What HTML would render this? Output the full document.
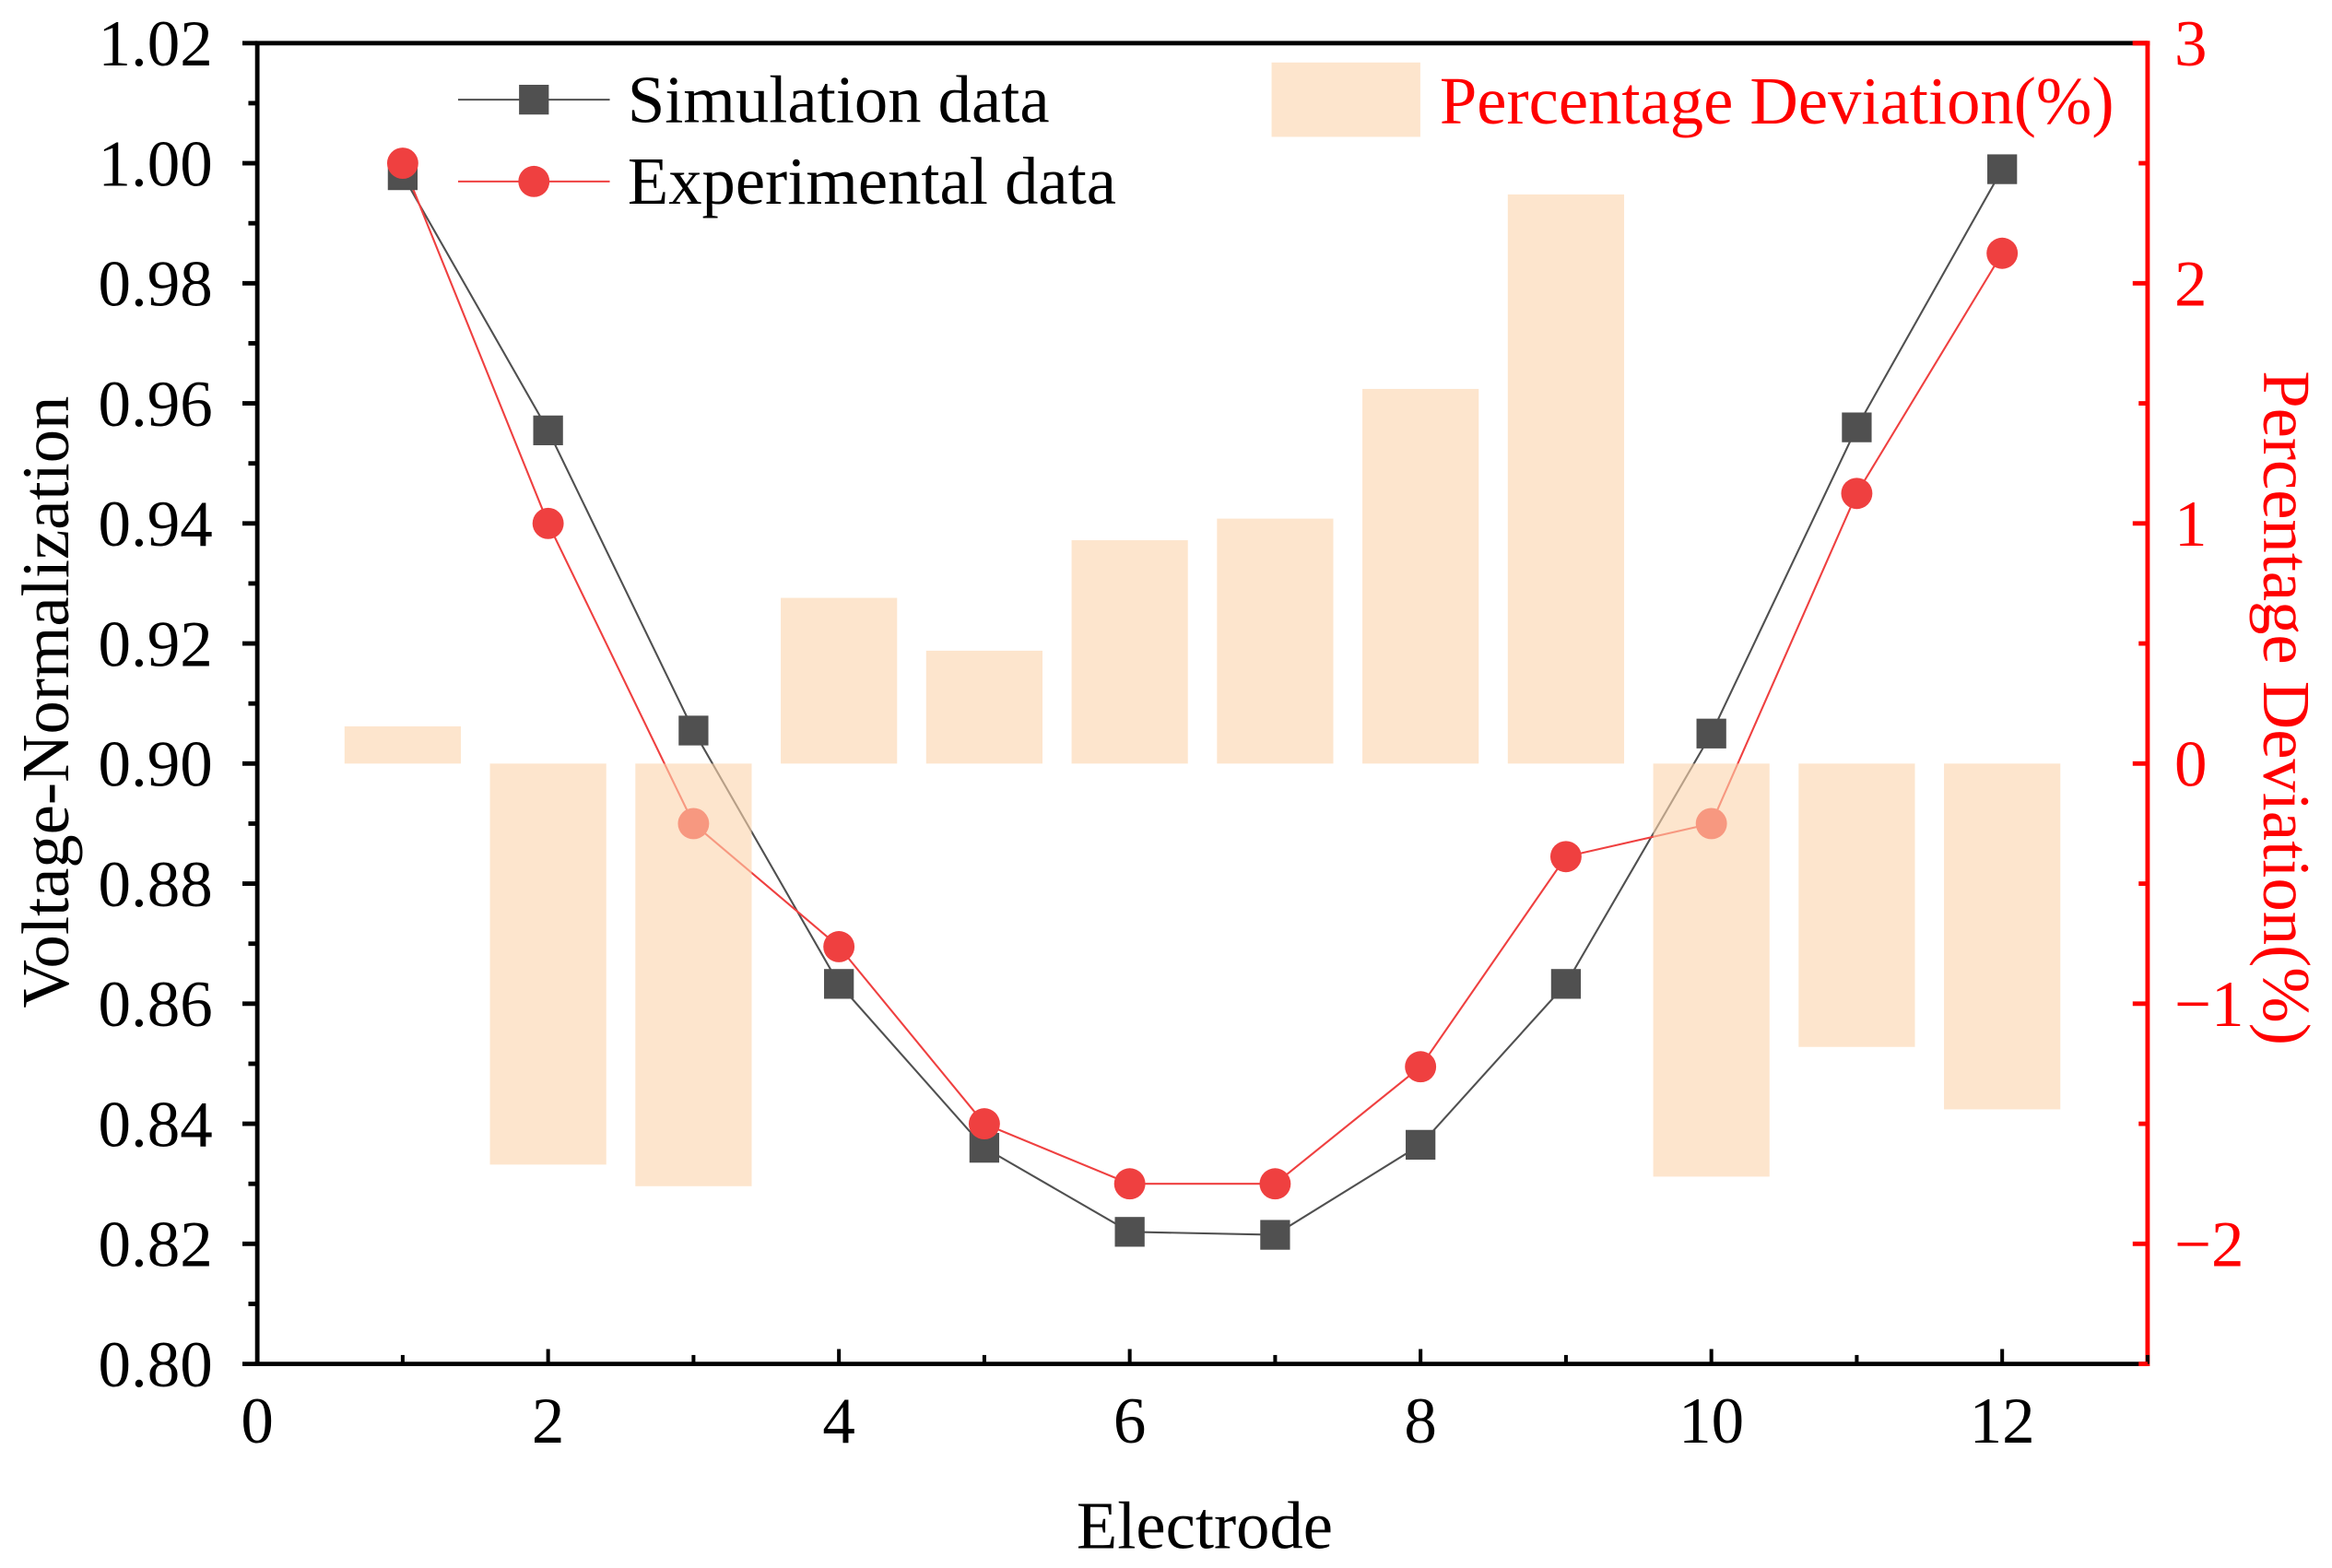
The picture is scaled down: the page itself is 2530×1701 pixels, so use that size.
<!DOCTYPE html>
<html><head><meta charset="utf-8"><style>
html,body{margin:0;padding:0;background:#fff;}
svg{display:block;font-family:"Liberation Serif","Times New Roman",serif;}
</style></head><body>
<svg id="chart" width="2530" height="1701" viewBox="0 0 1568 1054.2" xmlns="http://www.w3.org/2000/svg">
<g id="bars"></g>
<g id="lines"></g>
<g id="axes"></g>
<g>
  <line x1="308" y1="67" x2="410" y2="67" stroke="#505050" stroke-width="1.3"/>
  <rect x="349" y="57" width="20" height="20" fill="#505050"/>
  <text x="422" y="82" font-size="45">Simulation data</text>
  <line x1="308" y1="122" x2="410" y2="122" stroke="#ef4040" stroke-width="1.3"/>
  <circle cx="359" cy="122" r="10.5" fill="#ef4040"/>
  <text x="422" y="137" font-size="45">Experimental data</text>
  <rect x="855" y="42" width="100" height="50" fill="#fde5cd"/>
  <text x="968" y="83" font-size="45" fill="#ff0000">Percentage Deviation(%)</text>
</g>
<text x="810" y="1041" font-size="45" text-anchor="middle">Electrode</text>
<text transform="translate(46,472) rotate(-90)" font-size="45" text-anchor="middle">Voltage-Normalization</text>
<text transform="translate(1522,476) rotate(90)" font-size="45" text-anchor="middle" fill="#ff0000">Percentage Deviation(%)</text>
</svg>
<script>
const electrodes = [1,2,3,4,5,6,7,8,9,10,11,12];
const simulation = [0.998,0.9555,0.9055,0.8633,0.836,0.822,0.8215,0.8365,0.8633,0.905,0.956,0.999];
const experimental = [1.0,0.94,0.89,0.8695,0.84,0.83,0.83,0.8495,0.8845,0.89,0.945,0.985];
const deviation = [0.155,-1.67,-1.76,0.69,0.47,0.93,1.02,1.56,2.37,-1.72,-1.18,-1.44];
const xTicks = [0,2,4,6,8,10,12];
const yTicks = [0.80,0.82,0.84,0.86,0.88,0.90,0.92,0.94,0.96,0.98,1.00,1.02];
const rTicks = [-2,-1,0,1,2,3];

const L=173,R=1444,T=29,B=917;
const xS=v=>L+(v-0)/(13-0)*(R-L);
const yS=v=>B-(v-0.80)/(1.02-0.80)*(B-T);
const rS=v=>B-(v-(-2.5))/(3-(-2.5))*(B-T);
const NS="http://www.w3.org/2000/svg";
function mk(parent,tag,attrs){const e=document.createElementNS(NS,tag);for(const k in attrs)e.setAttribute(k,attrs[k]);parent.appendChild(e);return e;}
const gl=document.getElementById('lines'),gb=document.getElementById('bars'),ga=document.getElementById('axes');

let p1=electrodes.map((x,i)=>xS(x)+','+yS(simulation[i])).join(' ');
let pl=mk(gl,'polyline',{points:p1,fill:'none',stroke:'#505050','stroke-width':1.3});


let p2=electrodes.map((x,i)=>xS(x)+','+yS(experimental[i])).join(' ');
let pl2=mk(gl,'polyline',{points:p2,fill:'none',stroke:'#ef4040','stroke-width':1.3});


electrodes.forEach((x,i)=>{
  const s=mk(gl,'rect',{x:xS(x)-10,y:yS(simulation[i])-10,width:20,height:20,fill:'#505050'});
  
  
});
electrodes.forEach((x,i)=>{
  const c=mk(gl,'circle',{cx:xS(x),cy:yS(experimental[i]),r:10.5,fill:'#ef4040'});
  
  
});
gl.parentNode.insertBefore(gb,null);
electrodes.forEach((x,i)=>{
  const w=xS(0.8)-xS(0);const y0=rS(0),y1=rS(deviation[i]);
  const b=mk(gb,'rect',{x:xS(x)-w/2,y:Math.min(y0,y1),width:w,height:Math.abs(y1-y0),fill:'#fbd3ab','fill-opacity':0.6});
  
  
});
gb.parentNode.appendChild(ga);
mk(ga,'line',{x1:L-1.5,y1:B,x2:R,y2:B,stroke:'#000','stroke-width':3});
mk(ga,'line',{x1:L,y1:T,x2:L,y2:B,stroke:'#000','stroke-width':3});
mk(ga,'line',{x1:L-1.5,y1:T,x2:R,y2:T,stroke:'#000','stroke-width':3});
mk(ga,'line',{x1:R-10,y1:T,x2:R+1.5,y2:T,stroke:'#ff0000','stroke-width':3});
mk(ga,'line',{x1:R,y1:T-1.5,x2:R,y2:B+1.5,stroke:'#ff0000','stroke-width':3});
for(let v=0.80;v<=1.0201;v+=0.01){
  const major=Math.round(v*100)%2===0;
  mk(ga,'line',{x1:L-(major?10:6),y1:yS(v),x2:L,y2:yS(v),stroke:'#000','stroke-width':3});
}
yTicks.forEach(v=>{
  const t=mk(ga,'text',{x:143,y:yS(v)+15,'font-size':44,'text-anchor':'end'});
  t.textContent=v.toFixed(2);
  
  
});
for(let v=1;v<=13;v++){
  const major=v%2===0;
  mk(ga,'line',{x1:xS(v),y1:B,x2:xS(v),y2:B-(major?10:6),stroke:'#000','stroke-width':2.5});
}
xTicks.forEach(v=>{
  const t=mk(ga,'text',{x:xS(v),y:970,'font-size':44,'text-anchor':'middle'});
  t.textContent=v;
  
  
});
for(let v=-2.5;v<=3.001;v+=0.5){
  const major=Math.abs(v-Math.round(v))<0.01;
  mk(ga,'line',{x1:R-(major?10:6),y1:rS(v),x2:R,y2:rS(v),stroke:'#ff0000','stroke-width':3});
}
rTicks.forEach(v=>{
  const t=mk(ga,'text',{x:1462,y:rS(v)+15,'font-size':44,fill:'#ff0000'});
  t.textContent=v<0?'\u2212'+Math.abs(v):String(v);
  
  
});
</script>
</body></html>
